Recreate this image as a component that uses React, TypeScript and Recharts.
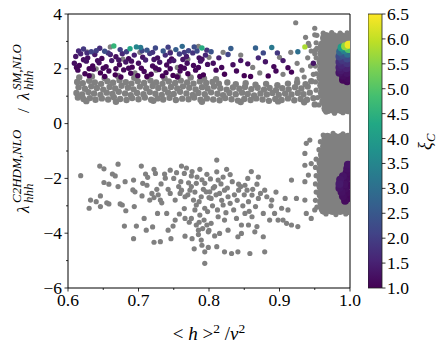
import { ScatterChart, Scatter, XAxis, YAxis, ReferenceArea, BarChart, Bar } from "recharts";

const FONT = "Liberation Serif, Times New Roman, DejaVu Serif, serif";
const GRAY = "#808080";

const xTicks = [0.6, 0.65, 0.7, 0.75, 0.8, 0.85, 0.9, 0.95, 1.0];
const yTicks = [-6, -5, -4, -3, -2, -1, 0, 1, 2, 3, 4];
const cbarTicks = [1.0, 1.5, 2.0, 2.5, 3.0, 3.5, 4.0, 4.5, 5.0, 5.5, 6.0, 6.5];
const cbarRange = [{ name: "xi", v: 6.5 }];

// gray band around 1
const bandGray = [
  [0.614, 0.95], [0.622, 0.9], [0.631, 0.93], [0.639, 0.87], [0.648, 0.92], [0.657, 0.88], [0.665, 0.96], [0.674, 0.9],
  [0.683, 0.86], [0.691, 0.93], [0.7, 0.89], [0.709, 0.95], [0.718, 0.87], [0.727, 0.92], [0.735, 0.88], [0.744, 0.94],
  [0.753, 0.86], [0.762, 0.91], [0.771, 0.89], [0.779, 0.95], [0.788, 0.87], [0.797, 0.92], [0.806, 0.88], [0.815, 0.85],
  [0.823, 0.93], [0.832, 0.89], [0.841, 0.84], [0.85, 0.9], [0.859, 0.86], [0.867, 0.92], [0.876, 0.88], [0.885, 0.83],
  [0.894, 0.9], [0.903, 0.86], [0.912, 0.92], [0.921, 0.85], [0.93, 0.9], [0.939, 0.87], [0.948, 0.93],
  [0.612, 1.12], [0.62, 1.06], [0.629, 1.15], [0.637, 1.1], [0.646, 1.05], [0.655, 1.13], [0.663, 1.08], [0.672, 1.16],
  [0.681, 1.1], [0.689, 1.04], [0.698, 1.12], [0.707, 1.07], [0.716, 1.15], [0.724, 1.09], [0.733, 1.05], [0.742, 1.13],
  [0.75, 1.08], [0.759, 1.16], [0.768, 1.1], [0.777, 1.05], [0.785, 1.12], [0.794, 1.07], [0.803, 1.14], [0.812, 1.09],
  [0.82, 1.04], [0.829, 1.12], [0.838, 1.07], [0.847, 1.13], [0.855, 1.08], [0.864, 1.03], [0.873, 1.1], [0.882, 1.06],
  [0.89, 1.12], [0.899, 1.05], [0.908, 1.1], [0.917, 1.06], [0.926, 1.12], [0.934, 1.07], [0.943, 1.13],
  [0.615, 1.33], [0.624, 1.27], [0.633, 1.36], [0.641, 1.3], [0.65, 1.24], [0.659, 1.34], [0.667, 1.28], [0.676, 1.38],
  [0.685, 1.31], [0.693, 1.25], [0.702, 1.35], [0.711, 1.29], [0.72, 1.37], [0.728, 1.3], [0.737, 1.26], [0.746, 1.34],
  [0.755, 1.28], [0.763, 1.36], [0.772, 1.31], [0.781, 1.25], [0.79, 1.33], [0.798, 1.28], [0.807, 1.35], [0.816, 1.29],
  [0.825, 1.24], [0.834, 1.32], [0.843, 1.27], [0.851, 1.34], [0.86, 1.26], [0.869, 1.31], [0.878, 1.24], [0.886, 1.3],
  [0.895, 1.22], [0.904, 1.29], [0.913, 1.25], [0.922, 1.33], [0.931, 1.28], [0.94, 1.35],
  [0.613, 1.52], [0.621, 1.47], [0.63, 1.56], [0.638, 1.5], [0.647, 1.45], [0.656, 1.55], [0.664, 1.49], [0.673, 1.58],
  [0.682, 1.51], [0.69, 1.46], [0.699, 1.55], [0.708, 1.48], [0.717, 1.57], [0.725, 1.5], [0.734, 1.45], [0.743, 1.54],
  [0.752, 1.48], [0.76, 1.57], [0.769, 1.5], [0.778, 1.46], [0.787, 1.54], [0.796, 1.48], [0.805, 1.52], [0.814, 1.46],
  [0.826, 1.5], [0.838, 1.44], [0.852, 1.47], [0.866, 1.42], [0.881, 1.45], [0.897, 1.4], [0.912, 1.46], [0.925, 1.5],
  [0.937, 1.44], [0.945, 1.55],
  [0.616, 1.68], [0.634, 1.72], [0.652, 1.66], [0.671, 1.74], [0.694, 1.67], [0.713, 1.71], [0.737, 1.65], [0.756, 1.73],
  [0.774, 1.68], [0.793, 1.64], [0.81, 1.62],
  [0.626, 0.82], [0.668, 0.8], [0.721, 0.83], [0.79, 0.8], [0.845, 0.79], [0.898, 0.81], [0.935, 0.78], [0.95, 0.7],
];

// gray points scattered above the band
const upperGray = [
  [0.627, 2.62], [0.66, 2.8], [0.678, 2.35], [0.702, 2.6], [0.725, 1.95], [0.745, 2.62], [0.77, 2.35], [0.785, 2.82],
  [0.64, 2.0], [0.695, 1.85], [0.755, 2.05], [0.8, 2.42], [0.82, 2.6], [0.845, 2.5], [0.862, 2.05], [0.872, 1.85],
  [0.9, 2.42], [0.905, 1.8], [0.916, 2.6], [0.925, 2.2], [0.932, 1.95], [0.94, 2.4], [0.945, 2.65], [0.942, 2.85],
  [0.937, 3.15], [0.95, 3.24], [0.95, 3.48], [0.923, 3.68], [0.941, 2.93], [0.935, 1.7], [0.925, 1.62], [0.948, 1.8],
  [0.944, 2.1], [0.95, 2.55], [0.953, 2.75],
];

// gray cloud below zero
const lowerGray = [
  [0.618, -1.9], [0.645, -1.55], [0.651, -1.65], [0.671, -1.48], [0.663, -1.84], [0.667, -1.91], [0.651, -2.15], [0.658, -2.21],
  [0.671, -2.3], [0.681, -2.12], [0.693, -2.06], [0.704, -1.55], [0.706, -2.18], [0.71, -1.84], [0.713, -1.96], [0.692, -2.42],
  [0.695, -2.49], [0.705, -2.64], [0.722, -1.67], [0.724, -1.82], [0.737, -1.84], [0.738, -1.99], [0.754, -1.79], [0.761, -1.55],
  [0.765, -1.82], [0.775, -1.91], [0.787, -1.67], [0.76, -2.12], [0.771, -2.16], [0.782, -2.18], [0.794, -2.18], [0.796, -2.49],
  [0.632, -2.79], [0.63, -3.09], [0.64, -2.85], [0.646, -2.64], [0.646, -3.03], [0.655, -2.89], [0.658, -2.93], [0.674, -2.93],
  [0.677, -2.97], [0.682, -3.18], [0.694, -3.03], [0.719, -2.55], [0.722, -2.7], [0.728, -2.6], [0.731, -2.79], [0.733, -2.89],
  [0.716, -2.79], [0.742, -2.4], [0.745, -2.55], [0.752, -2.79], [0.759, -2.55], [0.761, -2.43], [0.766, -2.67], [0.773, -2.43],
  [0.778, -2.79], [0.782, -2.97], [0.789, -2.67], [0.794, -3.09], [0.798, -3.21], [0.727, -3.28], [0.74, -3.28], [0.708, -3.46],
  [0.68, -3.74], [0.697, -3.74], [0.711, -3.89], [0.72, -3.77], [0.693, -4.2], [0.722, -4.33], [0.731, -4.31], [0.746, -4.2],
  [0.742, -3.89], [0.749, -3.74], [0.752, -3.52], [0.766, -3.46], [0.766, -4.11], [0.775, -3.46], [0.776, -4.2], [0.779, -4.57],
  [0.785, -3.89], [0.789, -4.25], [0.79, -4.44], [0.794, -4.68], [0.794, -5.1], [0.799, -4.52], [0.782, -3.7], [0.793, -3.52],
  [0.791, -3.83], [0.799, -3.95], [0.78, -3.15], [0.787, -3.34],
  [0.811, -1.33], [0.811, -1.76], [0.813, -2.06], [0.808, -2.3], [0.825, -1.67], [0.83, -1.86], [0.801, -2.49], [0.803, -2.73],
  [0.815, -2.55], [0.822, -2.43], [0.827, -2.67], [0.83, -2.91], [0.82, -2.97], [0.835, -3.15], [0.842, -2.43], [0.842, -2.21],
  [0.851, -2.25], [0.854, -2.43], [0.856, -2.85], [0.866, -3.03], [0.868, -2.21], [0.861, -2.61], [0.87, -2.73], [0.879, -2.43],
  [0.882, -2.67], [0.889, -2.79], [0.877, -3.28], [0.886, -3.52], [0.893, -3.28], [0.898, -3.52], [0.905, -3.52], [0.91, -3.64],
  [0.917, -3.7], [0.926, -3.76], [0.912, -3.15], [0.903, -3.09], [0.908, -2.73], [0.917, -2.06], [0.924, -2.73], [0.936, -2.79],
  [0.938, -3.28], [0.945, -3.46], [0.95, -3.15], [0.936, -2.12], [0.941, -1.88], [0.936, -1.09], [0.938, -0.72], [0.936, -1.52],
  [0.945, -1.46], [0.943, -0.6], [0.811, -4.49], [0.822, -4.68], [0.832, -4.74], [0.841, -4.68], [0.858, -4.74], [0.879, -4.68],
  [0.841, -4.13], [0.846, -4.01], [0.865, -3.95], [0.877, -4.13], [0.797, -3.7], [0.803, -3.64], [0.813, -3.4], [0.822, -3.52],
  [0.851, -3.28], [0.861, -3.4], [0.839, -3.46], [0.846, -3.7], [0.856, -3.7], [0.868, -3.76], [0.827, -3.89], [0.815, -4.01],
  [0.768, -1.62], [0.776, -1.75], [0.783, -1.95], [0.79, -2.05], [0.797, -1.85], [0.802, -2.02], [0.806, -2.35], [0.81, -2.6],
  [0.817, -2.2], [0.82, -1.95], [0.826, -2.35], [0.833, -2.12], [0.836, -2.6], [0.84, -2.8], [0.845, -2.3], [0.85, -2.6],
  [0.848, -3.0], [0.775, -2.3], [0.77, -2.6], [0.78, -2.5], [0.786, -2.85], [0.792, -2.4], [0.8, -2.7], [0.805, -3.0],
  [0.812, -3.15], [0.818, -2.8], [0.824, -3.25], [0.757, -2.3], [0.75, -2.0], [0.745, -1.7], [0.732, -2.2], [0.726, -2.4],
  [0.712, -2.25], [0.765, -3.1], [0.758, -3.3], [0.772, -3.6], [0.786, -3.6], [0.8, -3.9], [0.808, -4.1], [0.785, -4.05],
  [0.862, -2.4], [0.873, -2.55], [0.857, -3.2], [0.888, -3.0], [0.895, -2.5], [0.87, -1.95], [0.86, -1.75], [0.855, -2.0],
  [0.953, 3.22], [0.952, 2.95], [0.951, 2.68], [0.952, 2.4], [0.951, 2.1], [0.952, 1.82], [0.951, 1.52], [0.952, 1.22],
  [0.954, 0.95], [0.956, 0.68], [0.962, 3.3], [0.974, 3.32], [0.986, 3.3], [0.996, 3.31], [0.966, 0.42], [0.978, 0.38],
  [0.99, 0.4], [0.962, -0.42], [0.958, -0.66], [0.956, -0.95], [0.976, -0.36], [0.99, -0.37], [0.952, -1.3], [0.951, -1.6],
  [0.952, -1.9], [0.951, -2.2], [0.952, -2.5], [0.951, -2.8], [0.953, -3.05], [0.966, -3.3], [0.98, -3.32], [0.994, -3.3],
];

// dense region near <h>^2/v^2 = 1, upper lobe
const blobUpper = [
  [0.966, 3.12], [0.976, 3.12], [0.987, 3.12], [0.997, 3.12],
  [0.963, 2.85], [0.974, 2.85], [0.985, 2.85], [0.996, 2.85],
  [0.962, 2.56], [0.973, 2.56], [0.984, 2.56], [0.995, 2.56],
  [0.961, 2.27], [0.972, 2.27], [0.983, 2.27], [0.994, 2.27],
  [0.962, 1.98], [0.973, 1.98], [0.984, 1.98], [0.995, 1.98],
  [0.961, 1.69], [0.972, 1.69], [0.983, 1.69], [0.994, 1.69],
  [0.962, 1.4], [0.973, 1.4], [0.984, 1.4], [0.995, 1.4],
  [0.963, 1.11], [0.974, 1.11], [0.985, 1.11], [0.996, 1.11],
  [0.965, 0.82], [0.975, 0.82], [0.986, 0.82], [0.996, 0.82],
  [0.968, 0.56], [0.978, 0.56], [0.988, 0.56], [0.997, 0.56],
];

// dense region near <h>^2/v^2 = 1, lower lobe
const blobLower = [
  [0.968, -0.55], [0.978, -0.55], [0.988, -0.55], [0.997, -0.55],
  [0.966, -0.84], [0.976, -0.84], [0.986, -0.84], [0.996, -0.84],
  [0.963, -1.13], [0.973, -1.13], [0.984, -1.13], [0.994, -1.13],
  [0.961, -1.42], [0.972, -1.42], [0.983, -1.42], [0.994, -1.42],
  [0.961, -1.71], [0.972, -1.71], [0.983, -1.71], [0.994, -1.71],
  [0.961, -2.0], [0.972, -2.0], [0.983, -2.0], [0.994, -2.0],
  [0.961, -2.29], [0.972, -2.29], [0.983, -2.29], [0.994, -2.29],
  [0.961, -2.58], [0.972, -2.58], [0.983, -2.58], [0.994, -2.58],
  [0.962, -2.87], [0.973, -2.87], [0.984, -2.87], [0.994, -2.87],
  [0.964, -3.12], [0.975, -3.12], [0.986, -3.12], [0.996, -3.12],
];

// colored points: [x, y, xi_C]
const bandColored = [
  [0.615, 2.65, 1.6], [0.622, 2.72, 1.9], [0.633, 2.62, 2.1], [0.645, 2.75, 1.7], [0.652, 2.64, 2.3], [0.665, 2.83, 4.6],
  [0.674, 2.7, 2.0], [0.688, 2.73, 4.2], [0.697, 2.8, 3.5], [0.703, 2.78, 3.2], [0.712, 2.68, 2.4], [0.724, 2.76, 2.2],
  [0.735, 2.65, 2.5], [0.742, 2.79, 2.0], [0.753, 2.7, 2.6], [0.762, 2.82, 2.9], [0.771, 2.66, 2.1], [0.779, 2.8, 2.3],
  [0.79, 2.76, 4.4], [0.797, 2.68, 1.8],
  [0.627, 2.58, 1.7], [0.66, 2.52, 1.5], [0.683, 2.62, 2.0], [0.72, 2.6, 1.8], [0.745, 2.58, 1.6], [0.783, 2.65, 2.2],
  [0.64, 2.66, 2.0], [0.705, 2.66, 2.1], [0.765, 2.6, 1.9],
  [0.611, 2.45, 1.3], [0.618, 2.55, 1.5], [0.628, 2.4, 1.2], [0.638, 2.52, 1.4], [0.648, 2.38, 1.1], [0.657, 2.58, 1.8],
  [0.668, 2.44, 1.2], [0.677, 2.55, 1.6], [0.686, 2.37, 1.1], [0.694, 2.5, 1.5], [0.706, 2.42, 1.3], [0.716, 2.56, 1.9],
  [0.727, 2.4, 1.2], [0.738, 2.5, 1.7], [0.747, 2.36, 1.1], [0.758, 2.54, 2.0], [0.768, 2.45, 1.4], [0.777, 2.58, 1.8],
  [0.786, 2.4, 1.2], [0.795, 2.5, 1.6],
  [0.622, 2.33, 1.2], [0.642, 2.3, 1.2], [0.672, 2.32, 1.3], [0.69, 2.28, 1.2], [0.722, 2.34, 1.3], [0.744, 2.28, 1.2],
  [0.763, 2.34, 1.3], [0.79, 2.35, 1.25],
  [0.609, 2.2, 1.2], [0.616, 2.12, 1.1], [0.626, 2.28, 1.3], [0.635, 2.1, 1.05], [0.644, 2.22, 1.2], [0.654, 2.08, 1.1],
  [0.662, 2.3, 1.4], [0.673, 2.15, 1.1], [0.682, 2.25, 1.3], [0.691, 2.06, 1.05], [0.7, 2.2, 1.2], [0.71, 2.32, 1.5],
  [0.72, 2.1, 1.1], [0.73, 2.24, 1.3], [0.74, 2.14, 1.1], [0.75, 2.3, 1.4], [0.76, 2.08, 1.05], [0.769, 2.2, 1.2],
  [0.778, 2.12, 1.1], [0.788, 2.28, 1.3], [0.798, 2.16, 1.2],
  [0.612, 2.05, 1.1], [0.63, 2.0, 1.05], [0.65, 2.02, 1.1], [0.668, 2.0, 1.05], [0.686, 2.02, 1.1], [0.704, 2.02, 1.05],
  [0.724, 2.03, 1.1], [0.745, 2.0, 1.05], [0.765, 2.02, 1.1], [0.785, 2.05, 1.1],
  [0.614, 1.95, 1.1], [0.624, 1.82, 1.05], [0.636, 1.98, 1.1], [0.646, 1.85, 1.0], [0.658, 1.92, 1.1], [0.667, 1.78, 1.0],
  [0.679, 1.96, 1.1], [0.689, 1.84, 1.05], [0.699, 1.75, 1.0], [0.708, 1.9, 1.1], [0.718, 1.8, 1.0], [0.729, 1.97, 1.1],
  [0.739, 1.86, 1.05], [0.749, 1.76, 1.0], [0.759, 1.92, 1.1], [0.77, 1.82, 1.0], [0.781, 1.95, 1.1], [0.792, 1.78, 1.0],
  [0.63, 1.75, 1.0], [0.652, 1.72, 1.0], [0.675, 1.7, 1.0], [0.712, 1.72, 1.0], [0.734, 1.74, 1.0], [0.755, 1.7, 1.0],
  [0.787, 1.72, 1.0],
  [0.803, 2.62, 2.4], [0.806, 2.2, 1.2], [0.81, 1.95, 1.1], [0.814, 2.4, 1.5], [0.818, 2.05, 1.1], [0.822, 1.8, 1.0],
  [0.827, 2.52, 2.1], [0.831, 2.74, 2.6], [0.834, 2.15, 1.2], [0.839, 1.92, 1.1], [0.845, 2.3, 1.3], [0.85, 1.75, 1.0],
  [0.855, 2.18, 1.2], [0.859, 1.72, 1.0], [0.866, 2.76, 2.7], [0.87, 2.4, 1.6], [0.877, 2.58, 2.2], [0.88, 2.26, 1.3],
  [0.884, 1.74, 1.0], [0.889, 2.78, 3.2], [0.892, 2.08, 1.1], [0.895, 1.92, 1.1], [0.897, 2.58, 1.9], [0.905, 2.3, 1.4],
  [0.912, 2.04, 1.1], [0.917, 1.88, 1.05], [0.926, 2.62, 3.0], [0.936, 2.8, 5.8], [0.948, 2.2, 1.3],
];

const blobColored = [
  [0.998, 2.88, 6.4], [0.993, 2.82, 5.6], [0.988, 2.78, 4.0], [0.998, 2.72, 5.0], [0.992, 2.68, 3.4], [0.986, 2.62, 2.8],
  [0.997, 2.55, 3.0], [0.99, 2.5, 2.4], [0.985, 2.45, 2.2], [0.996, 2.38, 2.2], [0.989, 2.32, 1.9], [0.985, 2.25, 1.7],
  [0.996, 2.2, 1.8], [0.988, 2.14, 1.6], [0.985, 2.05, 1.5], [0.995, 2.02, 1.5], [0.987, 1.95, 1.4], [0.985, 1.86, 1.3],
  [0.996, 1.85, 1.3], [0.99, 1.75, 1.2], [0.997, 1.65, 1.15], [0.99, 1.6, 1.1], [0.996, 1.55, 1.1],
  [0.997, -1.5, 1.3], [0.996, -1.65, 1.25], [0.995, -1.8, 1.2], [0.99, -1.92, 1.3], [0.997, -1.95, 1.15], [0.986, -2.05, 1.35],
  [0.994, -2.08, 1.2], [0.985, -2.2, 1.4], [0.992, -2.22, 1.25], [0.998, -2.25, 1.1], [0.985, -2.35, 1.3], [0.993, -2.38, 1.2],
  [0.988, -2.5, 1.25], [0.996, -2.52, 1.15], [0.99, -2.65, 1.2], [0.997, -2.72, 1.1], [0.993, -2.82, 1.15],
];

const VIRIDIS = ["#440154", "#482475", "#414487", "#355f8d", "#2a788e", "#21918c", "#22a884", "#44bf70", "#7ad151", "#bddf26", "#fde725"];

function hexToRgb(h: string) {
  return [parseInt(h.slice(1, 3), 16), parseInt(h.slice(3, 5), 16), parseInt(h.slice(5, 7), 16)];
}

function viridis(z: number) {
  const t = Math.max(0, Math.min(1, (z - 1) / 5.5)) * (VIRIDIS.length - 1);
  const i = Math.min(Math.floor(t), VIRIDIS.length - 2);
  const f = t - i;
  const a = hexToRgb(VIRIDIS[i]);
  const b = hexToRgb(VIRIDIS[i + 1]);
  const c = a.map((v, k) => Math.round(v + (b[k] - v) * f));
  return `rgb(${c[0]},${c[1]},${c[2]})`;
}

const toXY = (arr: number[][]) => arr.map(([x, y]) => ({ x, y }));
const toXYZ = (arr: number[][]) =>
  arr.map(([x, y, z]) => ({ x, y, z })).sort((a, b) => a.z - b.z);

const grayDot = (r: number) => (props: any) => <circle cx={props.cx} cy={props.cy} r={r} fill={GRAY} />;
const colorDot = (r: number) => (props: any) => <circle cx={props.cx} cy={props.cy} r={r} fill={viridis(props.payload.z)} />;

const txt = { fontFamily: FONT, fill: "#000" };

function XTick({ x, y, payload }: any) {
  const v = payload.value;
  const major = Math.abs(v * 10 - Math.round(v * 10)) < 1e-6;
  return (
    <g>
      <line x1={x} x2={x} y1={y} y2={y + (major ? 3.5 : 2)} stroke="#000" strokeWidth={0.8} />
      {major && (
        <text x={x} y={y + 18} textAnchor="middle" style={{ ...txt, fontSize: 17.5 }}>
          {v.toFixed(1)}
        </text>
      )}
    </g>
  );
}

function YTick({ x, y, payload }: any) {
  const v = payload.value;
  const major = v % 2 === 0;
  return (
    <g>
      <line x1={x - (major ? 3.5 : 2)} x2={x} y1={y} y2={y} stroke="#000" strokeWidth={0.8} />
      {major && (
        <text x={x - 6} y={y + 5.5} textAnchor="end" style={{ ...txt, fontSize: 17.5 }}>
          {v < 0 ? "\u2212" + Math.abs(v) : String(v)}
        </text>
      )}
    </g>
  );
}

function CTick({ x, y, payload }: any) {
  return (
    <g>
      <line x1={x} x2={x + 3.5} y1={y} y2={y} stroke="#000" strokeWidth={0.8} />
      <text x={x + 5} y={y + 6} textAnchor="start" style={{ ...txt, fontSize: 17.5 }}>
        {payload.value.toFixed(1)}
      </text>
    </g>
  );
}

export default function App() {
  return (
    <div style={{ position: "absolute", left: 0, top: 0, width: 441, height: 347, background: "#fff" }}>
      <div style={{ position: "absolute", left: 0, top: 0 }}>
        <ScatterChart width={441} height={347} margin={{ top: 14, right: 91, bottom: 0, left: 0 }}>
          <XAxis type="number" dataKey="x" domain={[0.6, 1.0]} ticks={xTicks} interval={0} allowDataOverflow
            height={59} tickSize={0} tickMargin={0} axisLine={false} tickLine={false} tick={<XTick />} />
          <YAxis type="number" dataKey="y" domain={[-6, 4]} ticks={yTicks} interval={0} allowDataOverflow
            width={68} tickSize={0} tickMargin={0} axisLine={false} tickLine={false} tick={<YTick />} />
          <Scatter data={toXY(bandGray)} isAnimationActive={false} shape={grayDot(3.2)} />
          <Scatter data={toXY(upperGray)} isAnimationActive={false} shape={grayDot(2.6)} />
          <Scatter data={toXY(lowerGray)} isAnimationActive={false} shape={grayDot(2.6)} />
          <Scatter data={toXY(blobUpper)} isAnimationActive={false} shape={grayDot(6)} />
          <Scatter data={toXY(blobLower)} isAnimationActive={false} shape={grayDot(6)} />
          <Scatter data={toXYZ(bandColored)} isAnimationActive={false} shape={colorDot(2.7)} />
          <Scatter data={toXYZ(blobColored)} isAnimationActive={false} shape={colorDot(4)} />
          <ReferenceArea x1={0.6} x2={1.0} y1={-6} y2={4} fill="none" stroke="#000" strokeWidth={1} />
        </ScatterChart>
      </div>
      <div style={{ position: "absolute", left: 368, top: 0 }}>
        <BarChart width={73} height={347} data={cbarRange} margin={{ top: 14, right: 0, bottom: 59, left: 0 }} barCategoryGap={0}>
          <defs>
            <linearGradient id="viridisGrad" x1="0" y1="1" x2="0" y2="0">
              {VIRIDIS.map((c, i) => (
                <stop key={i} offset={`${(i / (VIRIDIS.length - 1)) * 100}%`} stopColor={c} />
              ))}
            </linearGradient>
          </defs>
          <XAxis dataKey="name" type="category" hide />
          <YAxis orientation="right" type="number" domain={[1, 6.5]} ticks={cbarTicks} interval={0} width={59}
            tickSize={0} tickMargin={0} axisLine={false} tickLine={false} tick={<CTick />} />
          <Bar dataKey="v" fill="url(#viridisGrad)" stroke="#222" strokeWidth={0.8} isAnimationActive={false} />
        </BarChart>
      </div>
      <svg width={441} height={347} style={{ position: "absolute", left: 0, top: 0, pointerEvents: "none" }}>
        <text x={209} y={340} textAnchor="middle" style={{ ...txt, fontSize: 19 }}>
          <tspan>{"< "}</tspan>
          <tspan fontStyle="italic">h</tspan>
          <tspan>{" >"}</tspan>
          <tspan dy={-7} style={{ fontSize: 13.5 }}>2</tspan>
          <tspan dy={7}>{" /"}</tspan>
          <tspan fontStyle="italic">v</tspan>
          <tspan dy={-7} style={{ fontSize: 13.5 }}>2</tspan>
        </text>
        <g transform="translate(29, 213) rotate(-90)">
          <text x={0} y={0} style={{ ...txt, fontSize: 17, fontStyle: "italic" }}>λ</text>
          <text x={10} y={-8} style={{ ...txt, fontSize: 13, fontStyle: "italic" }}>C2HDM,NLO</text>
          <text x={10} y={4} style={{ ...txt, fontSize: 13, fontStyle: "italic" }}>hhh</text>
          <text x={100} y={0} style={{ ...txt, fontSize: 17 }}>/</text>
          <text x={113} y={0} style={{ ...txt, fontSize: 17, fontStyle: "italic" }}>λ</text>
          <text x={123} y={-8} style={{ ...txt, fontSize: 13, fontStyle: "italic" }}>SM,NLO</text>
          <text x={123} y={4} style={{ ...txt, fontSize: 13, fontStyle: "italic" }}>hhh</text>
        </g>
        <g transform="translate(431, 150) rotate(-90)">
          <text x={0} y={0} style={{ ...txt, fontSize: 18, fontStyle: "italic" }}>ξ</text>
          <text x={8} y={4} style={{ ...txt, fontSize: 12.5, fontStyle: "italic" }}>C</text>
        </g>
      </svg>
    </div>
  );
}
